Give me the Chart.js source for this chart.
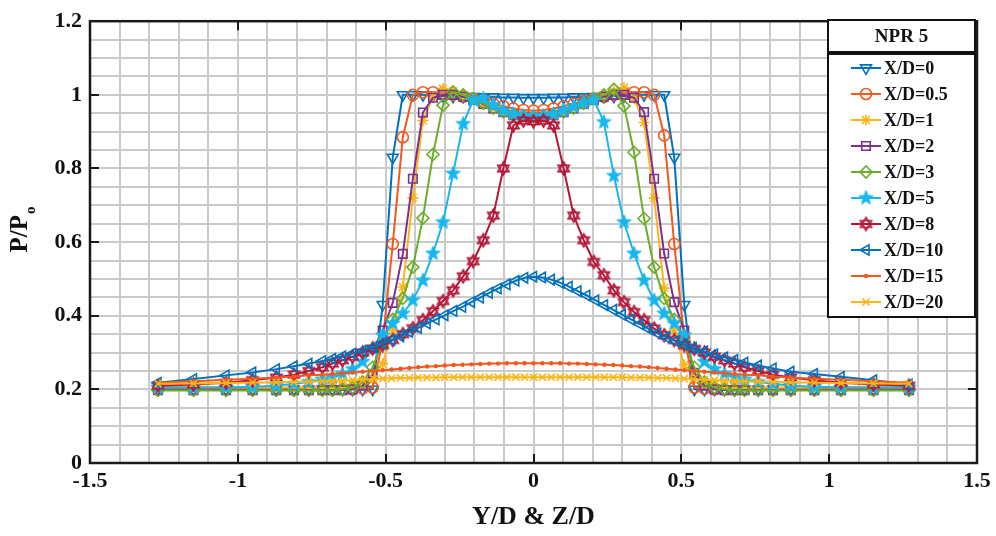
<!DOCTYPE html>
<html>
<head>
<meta charset="utf-8">
<title>NPR 5 - P/Po profiles</title>
<script src="https://cdn.jsdelivr.net/npm/chart.js@4.4.1/dist/chart.umd.min.js"></script>
<style>
    html, body { margin: 0; padding: 0; background: #fff; }
    #chart { display: block; }
</style>
</head>
<body>
<canvas id="chart" width="996" height="536"></canvas>
<script>
// ===== Traverse positions (Y/D & Z/D) =====
// grid used for X/D = 0 ... 8
const ydA = [-1.27, -1.15, -1.04, -0.95, -0.87, -0.81, -0.76, -0.714,
    -0.68, -0.646, -0.612, -0.578, -0.544, -0.51, -0.476, -0.442, -0.408, -0.374, -0.34, -0.306, -0.272,
    -0.238, -0.204, -0.17, -0.136, -0.102, -0.068, -0.034, 0,
    0.034, 0.068, 0.102, 0.136, 0.17, 0.204, 0.238, 0.272, 0.306, 0.34, 0.374, 0.408, 0.442, 0.476,
    0.51, 0.544, 0.578, 0.612, 0.646, 0.68,
    0.714, 0.76, 0.81, 0.87, 0.95, 1.04, 1.15, 1.27];
// grid used for X/D = 10, 15, 20
const ydB = [-1.27, -1.15, -1.04, -0.95, -0.87, -0.81, -0.76, -0.714, -0.68, -0.646, -0.612, -0.578,
    -0.54, -0.51, -0.48, -0.45, -0.42, -0.39, -0.36, -0.33, -0.3, -0.27, -0.24, -0.21, -0.18, -0.15,
    -0.12, -0.09, -0.06, -0.03, 0,
    0.03, 0.06, 0.09, 0.12, 0.15, 0.18, 0.21, 0.24, 0.27, 0.3, 0.33, 0.36, 0.39, 0.42, 0.45, 0.48, 0.51, 0.54,
    0.578, 0.612, 0.646, 0.68, 0.714, 0.76, 0.81, 0.87, 0.95, 1.04, 1.15, 1.27];

// ===== P/Po for every X/D station =====
const pXD0 = [0.2, 0.2, 0.2, 0.2, 0.2, 0.2, 0.2, 0.2,
    0.2, 0.2, 0.2, 0.2, 0.2, 0.43, 0.83, 1.0, 1.0, 1.0, 0.998, 0.997, 0.996, 0.995, 0.995, 0.994, 0.994, 0.993, 0.993, 0.992, 0.992,
    0.992, 0.993, 0.993, 0.994, 0.994, 0.995, 0.995, 0.996, 0.997, 0.998, 1.0, 1.0, 1.0, 0.83, 0.43, 0.2, 0.2, 0.2, 0.2, 0.2,
    0.2, 0.2, 0.2, 0.2, 0.2, 0.2, 0.2, 0.2];
const pXD05 = [0.2, 0.2, 0.2, 0.2, 0.2, 0.2, 0.2, 0.2,
    0.2, 0.2, 0.2, 0.202, 0.205, 0.33, 0.595, 0.885, 1.0, 1.007, 1.007, 1.005, 1.0, 0.995, 0.99, 0.983, 0.976, 0.969, 0.963, 0.959, 0.957,
    0.959, 0.963, 0.969, 0.976, 0.983, 0.99, 0.995, 1.0, 1.005, 1.007, 1.007, 1.0, 0.89, 0.595, 0.34, 0.205, 0.202, 0.2, 0.2, 0.2,
    0.2, 0.2, 0.2, 0.2, 0.2, 0.2, 0.2, 0.2];
const pXD1 = [0.21, 0.208, 0.206, 0.205, 0.205, 0.205, 0.205, 0.205,
    0.207, 0.21, 0.213, 0.22, 0.232, 0.27, 0.36, 0.478, 0.72, 0.93, 0.995, 1.017, 1.01, 1.0, 0.99, 0.977, 0.963, 0.952, 0.944, 0.938, 0.936,
    0.938, 0.944, 0.952, 0.963, 0.977, 0.99, 1.0, 1.01, 1.02, 0.99, 0.925, 0.72, 0.475, 0.36, 0.266, 0.234, 0.22, 0.213, 0.21, 0.207,
    0.205, 0.205, 0.205, 0.205, 0.205, 0.206, 0.208, 0.21];
const pXD2 = [0.198, 0.198, 0.198, 0.198, 0.198, 0.198, 0.198, 0.198,
    0.198, 0.198, 0.2, 0.21, 0.24, 0.36, 0.435, 0.568, 0.772, 0.952, 0.992, 1.0, 1.0, 0.995, 0.986, 0.975, 0.963, 0.953, 0.945, 0.94, 0.938,
    0.94, 0.945, 0.953, 0.963, 0.975, 0.986, 0.995, 1.0, 1.0, 0.992, 0.953, 0.772, 0.569, 0.437, 0.36, 0.245, 0.21, 0.2, 0.198, 0.198,
    0.198, 0.198, 0.198, 0.198, 0.198, 0.198, 0.198, 0.198];
const pXD3 = [0.197, 0.197, 0.197, 0.197, 0.197, 0.197, 0.197, 0.197,
    0.197, 0.2, 0.205, 0.22, 0.26, 0.33, 0.39, 0.447, 0.532, 0.665, 0.838, 0.972, 1.008, 1.0, 0.99, 0.977, 0.964, 0.954, 0.947, 0.943, 0.941,
    0.943, 0.947, 0.954, 0.964, 0.977, 0.99, 1.0, 1.015, 0.97, 0.844, 0.664, 0.532, 0.447, 0.39, 0.33, 0.26, 0.22, 0.205, 0.2, 0.197,
    0.197, 0.197, 0.197, 0.197, 0.197, 0.197, 0.197, 0.197];
const pXD5 = [0.205, 0.205, 0.205, 0.207, 0.21, 0.215, 0.22, 0.227,
    0.233, 0.242, 0.255, 0.275, 0.31, 0.347, 0.379, 0.406, 0.442, 0.496, 0.569, 0.654, 0.786, 0.921, 0.985, 0.99, 0.972, 0.958, 0.948, 0.943, 0.94,
    0.943, 0.948, 0.958, 0.968, 0.978, 0.986, 0.926, 0.78, 0.654, 0.569, 0.496, 0.442, 0.406, 0.379, 0.347, 0.31, 0.275, 0.255, 0.242, 0.233,
    0.227, 0.22, 0.215, 0.21, 0.207, 0.205, 0.205, 0.205];
const pXD8 = [0.21, 0.213, 0.218, 0.225, 0.232, 0.24, 0.25, 0.26,
    0.27, 0.279, 0.289, 0.3, 0.311, 0.32, 0.334, 0.35, 0.366, 0.388, 0.412, 0.44, 0.469, 0.507, 0.548, 0.605, 0.672, 0.8, 0.917, 0.93, 0.928,
    0.93, 0.917, 0.8, 0.672, 0.605, 0.546, 0.51, 0.469, 0.437, 0.41, 0.388, 0.365, 0.347, 0.334, 0.32, 0.31, 0.3, 0.289, 0.279, 0.27,
    0.26, 0.25, 0.24, 0.232, 0.225, 0.218, 0.213, 0.21];
const pXD10 = [0.218, 0.228, 0.238, 0.246, 0.255, 0.263, 0.27, 0.277, 0.283, 0.29, 0.297, 0.305,
    0.315, 0.325, 0.334, 0.344, 0.356, 0.367, 0.379, 0.39, 0.401, 0.413, 0.424, 0.437, 0.449, 0.462, 0.474, 0.485, 0.495, 0.503, 0.506,
    0.504, 0.498, 0.49, 0.479, 0.467, 0.455, 0.442, 0.429, 0.416, 0.403, 0.39, 0.377, 0.364, 0.352, 0.341, 0.331, 0.322, 0.313,
    0.303, 0.295, 0.287, 0.28, 0.273, 0.265, 0.257, 0.248, 0.242, 0.234, 0.225, 0.213];
const pXD15 = [0.218, 0.222, 0.226, 0.229, 0.232, 0.235, 0.238, 0.24, 0.242, 0.244, 0.246, 0.248,
    0.25, 0.252, 0.254, 0.256, 0.258, 0.26, 0.262, 0.263, 0.265, 0.266, 0.267, 0.268, 0.269, 0.27, 0.27, 0.271, 0.271, 0.271, 0.271,
    0.271, 0.271, 0.271, 0.27, 0.27, 0.269, 0.268, 0.267, 0.266, 0.265, 0.263, 0.262, 0.26, 0.258, 0.256, 0.254, 0.252, 0.25,
    0.248, 0.246, 0.244, 0.242, 0.24, 0.238, 0.235, 0.232, 0.229, 0.226, 0.222, 0.218];
const pXD20 = [0.215, 0.216, 0.217, 0.218, 0.219, 0.22, 0.221, 0.222, 0.223, 0.224, 0.225, 0.226,
    0.228, 0.229, 0.23, 0.231, 0.231, 0.232, 0.232, 0.232, 0.233, 0.233, 0.233, 0.233, 0.233, 0.233, 0.233, 0.233, 0.233, 0.233, 0.233,
    0.233, 0.233, 0.233, 0.233, 0.233, 0.233, 0.233, 0.233, 0.233, 0.233, 0.232, 0.232, 0.232, 0.231, 0.231, 0.23, 0.229, 0.228,
    0.226, 0.225, 0.224, 0.223, 0.222, 0.221, 0.22, 0.219, 0.218, 0.217, 0.216, 0.215];

const seriesNames = ['X/D=0', 'X/D=0.5', 'X/D=1', 'X/D=2', 'X/D=3', 'X/D=5', 'X/D=8', 'X/D=10', 'X/D=15', 'X/D=20'];
const legendTitle = 'NPR 5';

// ===== Axis ticks =====
const xTicks = [-1.5, -1, -0.5, 0, 0.5, 1, 1.5];
const yTicks = [0, 0.2, 0.4, 0.6, 0.8, 1, 1.2];

const FONT = '"Liberation Serif", "Times New Roman", serif';
const colors = ['#0072BD', '#F4581C', '#FDB515', '#7E2F8E', '#6AAE2A', '#18B6EE', '#B51637', '#0072BD', '#F4581C', '#FDB515'];

// ===== Custom markers (pentagram / hexagram) =====
function pentagramImage(color, r) {
    const size = Math.ceil(2 * r + 4);
    const c = document.createElement('canvas');
    c.width = c.height = size;
    const g = c.getContext('2d');
    g.fillStyle = color;
    g.strokeStyle = color;
    g.lineWidth = 1;
    g.beginPath();
    for (let k = 0; k < 10; k++) {
        const a = -Math.PI / 2 + k * Math.PI / 5;
        const rr = k % 2 ? r * 0.42 : r;
        const px = size / 2 + rr * Math.cos(a), py = size / 2 + rr * Math.sin(a);
        k ? g.lineTo(px, py) : g.moveTo(px, py);
    }
    g.closePath();
    g.fill();
    g.stroke();
    return c;
}

function hexagramImage(color, r) {
    const size = Math.ceil(2 * r + 4);
    const c = document.createElement('canvas');
    c.width = c.height = size;
    const g = c.getContext('2d');
    g.strokeStyle = color;
    g.lineWidth = 1.6;
    [0, Math.PI].forEach(off => {
        g.beginPath();
        for (let k = 0; k < 3; k++) {
            const a = off - Math.PI / 2 + k * 2 * Math.PI / 3;
            const px = size / 2 + r * Math.cos(a), py = size / 2 + r * Math.sin(a);
            k ? g.lineTo(px, py) : g.moveTo(px, py);
        }
        g.closePath();
        g.stroke();
    });
    return c;
}

// marker per series, same order as seriesNames
const markers = [
    { style: 'triangle', rotation: 180, radius: 6.3 },
    { style: 'circle', rotation: 0, radius: 5.5 },
    { style: 'star', rotation: 0, radius: 5.5 },
    { style: 'rect', rotation: 0, radius: 6 },
    { style: 'rectRot', rotation: 0, radius: 6 },
    { style: pentagramImage(colors[5], 7.5), rotation: 0, radius: 7 },
    { style: hexagramImage(colors[6], 6.5), rotation: 0, radius: 6.5 },
    { style: 'triangle', rotation: -90, radius: 6 },
    { style: 'circle', rotation: 0, radius: 1.4, filled: true },
    { style: 'crossRot', rotation: 0, radius: 5 }
];

const grids = [ydA, ydA, ydA, ydA, ydA, ydA, ydA, ydB, ydB, ydB];
const values = [pXD0, pXD05, pXD1, pXD2, pXD3, pXD5, pXD8, pXD10, pXD15, pXD20];

function buildDataset(i) {
    const m = markers[i];
    return {
        label: seriesNames[i],
        data: grids[i].map((x, k) => ({ x: x, y: values[i][k] })),
        showLine: true,
        borderColor: colors[i],
        borderWidth: 2,
        tension: 0,
        pointStyle: m.style,
        rotation: m.rotation,
        pointRadius: m.radius,
        pointBorderWidth: 1.6,
        pointBorderColor: colors[i],
        pointBackgroundColor: m.filled ? colors[i] : 'rgba(0,0,0,0)',
        order: seriesNames.length - i  // later series on top
    };
}

function isTick(list, v) {
    return list.some(t => Math.abs(t - v) < 1e-9);
}

// ===== Box, inward ticks =====
const TICK = 9;
const framePlugin = {
    id: 'frame',
    afterDatasetsDraw(chart) {
        const { ctx, chartArea: a, scales: { x, y } } = chart;
        ctx.save();
        ctx.strokeStyle = '#1a1a1a';
        ctx.lineWidth = 2.5;
        ctx.strokeRect(a.left, a.top, a.right - a.left, a.bottom - a.top);
        ctx.lineWidth = 2;
        ctx.beginPath();
        xTicks.forEach(v => {
            const px = Math.round(x.getPixelForValue(v));
            ctx.moveTo(px, a.bottom); ctx.lineTo(px, a.bottom - TICK);
            ctx.moveTo(px, a.top); ctx.lineTo(px, a.top + TICK);
        });
        yTicks.forEach(v => {
            const py = Math.round(y.getPixelForValue(v));
            ctx.moveTo(a.left, py); ctx.lineTo(a.left + TICK, py);
            ctx.moveTo(a.right, py); ctx.lineTo(a.right - TICK, py);
        });
        ctx.stroke();
        ctx.restore();
    }
};

// ===== Y axis title with subscript =====
const yTitlePlugin = {
    id: 'yTitle',
    afterDraw(chart) {
        const ctx = chart.ctx;
        ctx.save();
        ctx.translate(27, 230);
        ctx.rotate(-Math.PI / 2);
        ctx.fillStyle = '#111';
        ctx.textBaseline = 'alphabetic';
        ctx.font = 'bold 25px ' + FONT;
        const w1 = ctx.measureText('P/P').width;
        ctx.font = 'bold 15px ' + FONT;
        const w2 = ctx.measureText('o').width;
        const x0 = -(w1 + w2) / 2;
        ctx.font = 'bold 25px ' + FONT;
        ctx.fillText('P/P', x0, 0);
        ctx.font = 'bold 15px ' + FONT;
        ctx.fillText('o', x0 + w1 + 1, 8);
        ctx.restore();
    }
};

// ===== Legend box in the top right corner =====
const legendPlugin = {
    id: 'legendBox',
    afterDraw(chart) {
        const ctx = chart.ctx;
        const left = 828, right = 975, top = 20;
        const headBottom = 52, boxTop = 54, boxBottom = 317;
        ctx.save();
        ctx.fillStyle = '#fff';
        ctx.fillRect(left, top, right - left, boxBottom - top);
        ctx.strokeStyle = '#111';
        ctx.lineWidth = 2;
        ctx.strokeRect(left, top, right - left, headBottom - top);
        ctx.strokeRect(left, boxTop, right - left, boxBottom - boxTop);

        ctx.fillStyle = '#111';
        ctx.font = 'bold 19px ' + FONT;
        ctx.textAlign = 'center';
        ctx.textBaseline = 'middle';
        ctx.fillText(legendTitle, (left + right) / 2, (top + headBottom) / 2 + 1);

        ctx.textAlign = 'left';
        ctx.font = 'bold 18px ' + FONT;
        chart.data.datasets.forEach((ds, i) => {
            const yy = 68 + i * 26;
            const m = markers[i];
            ctx.strokeStyle = colors[i];
            ctx.lineWidth = 2;
            ctx.beginPath();
            ctx.moveTo(851, yy);
            ctx.lineTo(881, yy);
            ctx.stroke();
            ctx.lineWidth = 1.6;
            ctx.fillStyle = m.filled ? colors[i] : 'rgba(0,0,0,0)';
            Chart.helpers.drawPoint(ctx, {
                pointStyle: m.style, rotation: m.rotation, radius: m.radius, borderWidth: 1.6
            }, 866, yy);
            ctx.fillStyle = '#111';
            ctx.fillText(ds.label, 884, yy + 1);
        });
        ctx.restore();
    }
};

// ===== Chart =====
const tickFont = { family: FONT, size: 22, weight: 'bold' };
const gridStyle = { color: '#cacaca', lineWidth: 2, drawTicks: false };

new Chart(document.getElementById('chart').getContext('2d'), {
    type: 'scatter',
    data: { datasets: seriesNames.map((n, i) => buildDataset(i)) },
    options: {
        responsive: false,
        animation: false,
        devicePixelRatio: 1,
        layout: { padding: { left: 0, right: 19, top: 20, bottom: 0 } },
        plugins: { legend: { display: false }, tooltip: { enabled: false } },
        scales: {
            x: {
                type: 'linear',
                min: -1.5,
                max: 1.5,
                afterFit: s => { s.height = 73; },
                border: { display: false },
                grid: gridStyle,
                ticks: {
                    stepSize: 0.1,
                    autoSkip: false,
                    maxRotation: 0,
                    padding: 5,
                    color: '#111',
                    font: tickFont,
                    callback: v => isTick(xTicks, v) ? String(Math.round(v * 10) / 10) : ''
                },
                title: {
                    display: true,
                    text: 'Y/D & Z/D',
                    color: '#111',
                    font: { family: FONT, size: 26, weight: 'bold' },
                    padding: { top: 0, bottom: 3 }
                }
            },
            y: {
                type: 'linear',
                min: 0,
                max: 1.2,
                afterFit: s => { s.width = 90; },
                border: { display: false },
                grid: gridStyle,
                ticks: {
                    stepSize: 0.05,
                    autoSkip: false,
                    padding: 8,
                    color: '#111',
                    font: tickFont,
                    callback: v => isTick(yTicks, v) ? String(Math.round(v * 10) / 10) : ''
                }
            }
        }
    },
    plugins: [framePlugin, yTitlePlugin, legendPlugin]
});
</script>
</body>
</html>
